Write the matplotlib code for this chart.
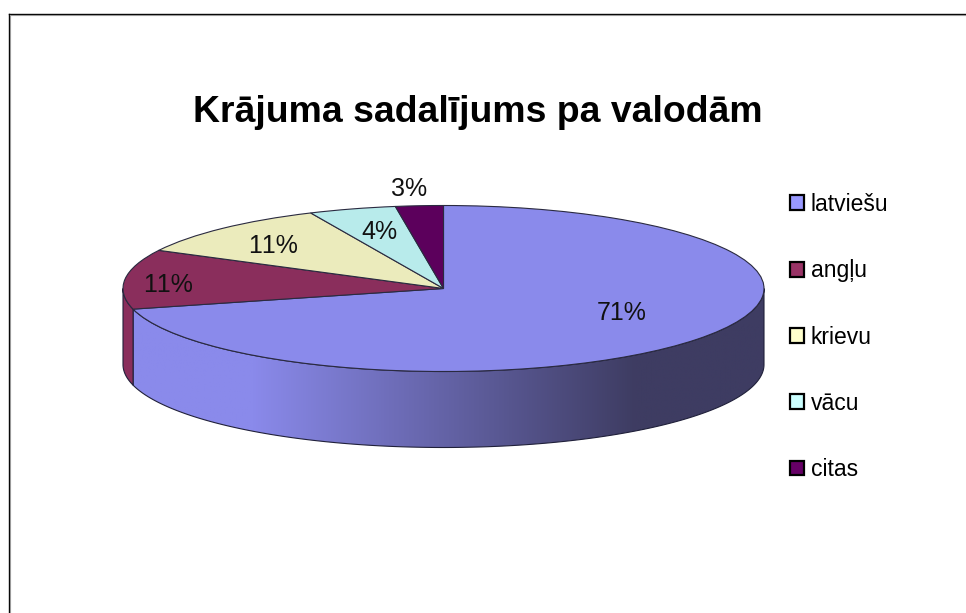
import numpy as np
import matplotlib
matplotlib.use('Agg')
import matplotlib.pyplot as plt
from matplotlib.colors import LinearSegmentedColormap
from matplotlib.lines import Line2D
from matplotlib.patches import Patch, Polygon

plt.rcParams['font.family'] = ['Liberation Sans', 'DejaVu Sans']
plt.rcParams['text.kerning_factor'] = 6

categories = ['latviešu', 'angļu', 'krievu', 'vācu', 'citas']
shares = [71, 11.6, 10.6, 4.4, 2.4]
pct_labels = ['71%', '11%', '11%', '4%', '3%']
title = 'Krājuma sadalījums pa valodām'

top_colors = ['#8a8aeb', '#8a2e5c', '#ebebbc', '#b8ebeb', '#5c005c']
legend_colors = ['#9999ff', '#993366', '#ffffcc', '#ccffff', '#660066']

W, H = 966, 613
cx, cy, rx, ry, depth = 443.5, 288.5, 320.5, 83.0, 76.0


def dx(px):
    return (px - cx) / rx


def dy(py):
    return (cy - py) / ry


fig = plt.figure(figsize=(W / 100, H / 100), dpi=100)
ax = fig.add_axes([0, 0, 1, 1])

wedges, _ = ax.pie(shares, colors=top_colors, startangle=90, counterclock=False,
                   radius=1, wedgeprops={'edgecolor': '#2a2a40', 'linewidth': 0.8, 'zorder': 3})
ax.set_aspect('auto')

# side wall, only the front half of the ellipse shows
d = depth / ry
ends = 90 - np.cumsum(shares) * 360 / sum(shares)


def wall(a1, a2):
    t = np.radians(np.linspace(a1, a2, 200))
    x = np.cos(t)
    y = np.sin(t)
    return np.r_[np.c_[x, y], np.c_[x[::-1], y[::-1] - d]]


# latviesu wall: runs from the right edge round to its end angle
latv = Polygon(wall(0, ends[0]), closed=True, fc='none', ec='#20203a', lw=0.8, zorder=2)
ax.add_patch(latv)
shade = LinearSegmentedColormap.from_list('shade', [(0, '#8a8aeb'), (0.2, '#8a8aeb'),
                                                    (0.8, '#3e3c62'), (1, '#3e3c62')])
im = ax.imshow(np.linspace(0, 1, 512)[None, :], cmap=shade, aspect='auto', zorder=1,
               extent=(-1, 1, -1 - d, 1))
im.set_clip_path(latv)

# angļu wall, the small piece on the left
ax.add_patch(Polygon(wall(180, 360 + ends[0]), closed=True, fc=top_colors[1], ec='#20203a',
                     lw=0.8, zorder=2))

ax.set_xlim(dx(0), dx(W))
ax.set_ylim(dy(H), dy(0))
ax.axis('off')

label_px = [(622, 313), (168, 285), (273, 246), (379, 232), (409, 189)]
for lab, (px, py) in zip(pct_labels, label_px):
    ax.text(dx(px), dy(py), lab, ha='center', va='center', fontsize=18, color='#111111', zorder=5)

ax.text(dx(477.5), dy(113), title, ha='center', va='center', fontsize=26.9, fontweight='bold',
        color='black')

handles = [Patch(fc=c, ec='black', lw=1.6) for c in legend_colors]
fig.legend(handles, categories, loc='upper left', bbox_to_anchor=(783 / W, 1 - 186 / H),
           frameon=False, fontsize=16.5, labelspacing=1.89, handlelength=0.62, handleheight=0.62,
           handletextpad=0.28, borderpad=0.3, borderaxespad=0)

# chart frame, top and left only are inside the picture
fig.add_artist(Line2D([8.5 / W, 8.5 / W], [0, 1 - 13.5 / H], color='black', lw=1))
fig.add_artist(Line2D([8.5 / W, 1], [1 - 13.5 / H, 1 - 13.5 / H], color='black', lw=1))
fig.add_artist(Line2D([9.5 / W, 9.5 / W], [0, 1 - 14.5 / H], color='#999999', lw=0.8))
fig.add_artist(Line2D([9.5 / W, 1], [1 - 14.5 / H, 1 - 14.5 / H], color='#999999', lw=0.8))

plt.savefig('out.png', dpi=100)
